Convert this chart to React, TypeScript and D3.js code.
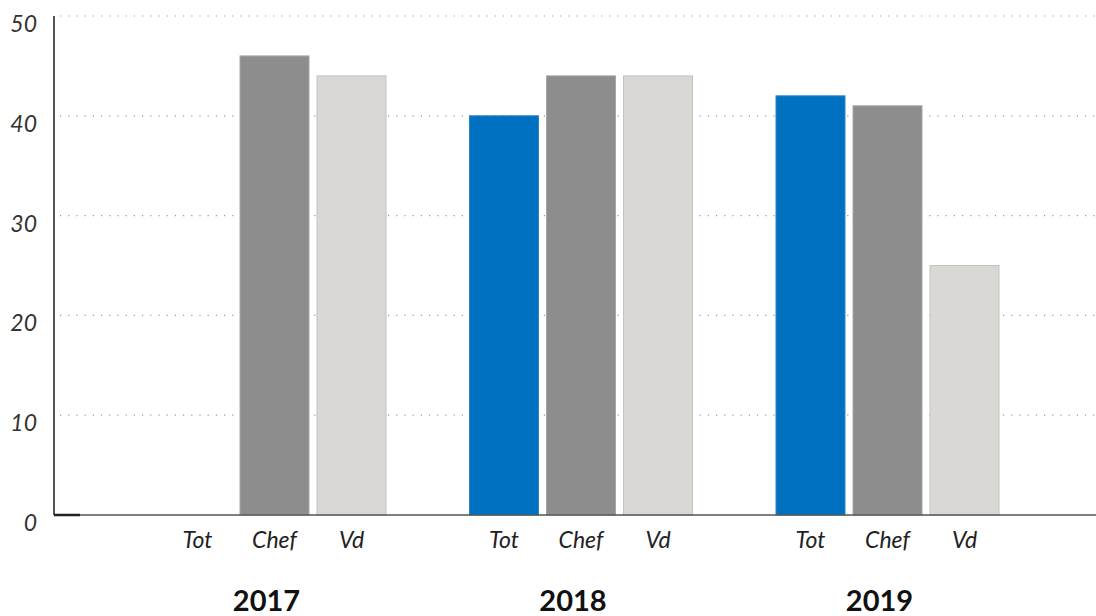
import React from "react";
import * as d3 from "d3";

const years = ["2017", "2018", "2019"];
const categories = ["Tot", "Chef", "Vd"];
const totValues: (number | null)[] = [null, 40, 42];
const chefValues = [46, 44, 41];
const vdValues = [44, 44, 25];
const yTicks = [0, 10, 20, 30, 40, 50];

const colors: Record<string, string> = { Tot: "#0070C0", Chef: "#8D8D8D", Vd: "#D9D8D4" };
const strokes: Record<string, string> = { Tot: "#2b86c8", Chef: "#a6a6a6", Vd: "#c4c3bf" };

export default function App() {
  const W = 1096, H = 616;
  const y = d3.scaleLinear().domain([0, 50]).range([515, 16]);
  const gx = d3.scalePoint<string>().domain(years).range([274.5, 887.5]);
  const bx = d3.scaleBand<string>().domain(categories).range([-111.5, 111.5]).paddingInner(0.104);
  const series: Record<string, (number | null)[]> = { Tot: totValues, Chef: chefValues, Vd: vdValues };
  const font = "Lato, 'Open Sans', sans-serif";

  return (
    <svg width={W} height={H} style={{ position: "absolute", left: 0, top: 0 }}>
      <rect width={W} height={H} fill="#fff" />
      {yTicks.filter(t => t > 0).map(t => (
        <line key={"g" + t} x1={60} x2={W} y1={y(t)} y2={y(t)} stroke="#9a9a9a" strokeWidth={1.2} strokeDasharray="1.2,7" />
      ))}
      {years.map((yr, i) =>
        categories.map(c => {
          const v = series[c][i];
          if (v == null) return null;
          const x = gx(yr)! + bx(c)!;
          return (
            <rect key={yr + c} x={x} y={y(v)} width={bx.bandwidth()} height={y(0) - y(v)}
              fill={colors[c]} stroke={strokes[c]} strokeWidth={1} />
          );
        })
      )}
      <line x1={54} x2={54} y1={16} y2={515} stroke="#555" strokeWidth={2} />
      <line x1={54} x2={W} y1={515} y2={515} stroke="#555" strokeWidth={1.5} />
      <line x1={54} x2={80} y1={515} y2={515} stroke="#222" strokeWidth={2.5} />
      {yTicks.map(t => (
        <text key={"t" + t} x={37} y={y(t) + 16} textAnchor="end" fontFamily={font} fontStyle="italic"
          fontSize={23} fill="#333">{t}</text>
      ))}
      {years.map(yr =>
        categories.map(c => (
          <text key={"l" + yr + c} x={gx(yr)! + bx(c)! + bx.bandwidth() / 2} y={548} textAnchor="middle"
            fontFamily={font} fontStyle="italic" fontSize={23} fill="#222">{c}</text>
        ))
      )}
      {years.map(yr => (
        <text key={"y" + yr} x={gx(yr)! - 8} y={611} textAnchor="middle" fontFamily={font} fontWeight="bold"
          fontSize={29} fill="#111">{yr}</text>
      ))}
    </svg>
  );
}
